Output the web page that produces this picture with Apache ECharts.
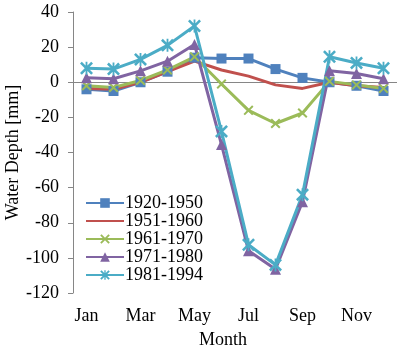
<!DOCTYPE html>
<html>
<head>
<meta charset="utf-8">
<script src="https://cdn.jsdelivr.net/npm/echarts@6/dist/echarts.min.js"></script>
<style>
  html, body { margin: 0; padding: 0; background: #fff; }
  #chart { width: 397px; height: 350px; }
</style>
</head>
<body>
<div id="chart"></div>
<script>
// chart data
const months = ['Jan','Feb','Mar','Apr','May','Jun','Jul','Aug','Sep','Oct','Nov','Dec']
const yTicks = [-120, -100, -80, -60, -40, -20, 0, 20, 40]
const periods = ['1920-1950', '1951-1960', '1961-1970', '1971-1980', '1981-1994']
const p1920 = [-4, -5, 0, 6, 14, 13.5, 13.5, 7.5, 2.5, 0, -2, -5]
const p1951 = [-3.5, -4, 0, 6, 12, 7, 3.5, -1.5, -3.5, 0, -2, -3]
const p1961 = [-2, -3, 1, 7, 14.5, -1, -16, -23.5, -17.5, 0.5, -1.5, -3.5]
const p1971 = [2.5, 2, 6.5, 12, 21.5, -35.5, -96, -106.5, -68, 6.5, 5, 2]
const p1981 = [8, 7.5, 13, 21, 32, -28, -92.5, -104, -64, 14.5, 11, 8]

const font = 'Liberation Serif'
const xMark = 'path://M0,1.4 L1.4,0 L5,3.6 L8.6,0 L10,1.4 L6.4,5 L10,8.6 L8.6,10 L5,6.4 L1.4,10 L0,8.6 L3.6,5 Z'
const starMark = xMark + ' M4.3,0 L5.7,0 L5.7,10 L4.3,10 Z'

const mk = (name, data, color, symbol, size) => ({
    name: name,
    type: 'line',
    data: data,
    symbol: symbol,
    symbolSize: size,
    showSymbol: symbol !== 'none',
    lineStyle: { width: 3, color: color },
    itemStyle: { color: color },
    animation: false
})

const chart = echarts.init(document.getElementById('chart'))
chart.setOption({
    textStyle: { fontFamily: font, color: '#000' },
    grid: { left: 73, right: 0, top: 12, bottom: 57, containLabel: false, outerBoundsMode: 'none' },
    legend: {
        orient: 'vertical',
        left: 80,
        top: 189,
        itemWidth: 38,
        itemHeight: 12,
        itemGap: 0,
        textStyle: { fontFamily: font, fontSize: 18, lineHeight: 18, color: '#000', padding: [0, 0, 0, -4] },
        data: periods.map((p, i) => i === 1 ? { name: p, itemStyle: { opacity: 0 } } : p)
    },
    xAxis: [{
        type: 'category',
        data: months,
        boundaryGap: true,
        axisLine: { show: false, onZero: false },
        axisTick: { show: false },
        axisLabel: { interval: 1, fontFamily: font, fontSize: 18, color: '#000', margin: 14 },
        name: 'Month',
        nameLocation: 'middle',
        nameGap: 38,
        nameMoveOverlap: false,
        nameTextStyle: { fontFamily: font, fontSize: 18, color: '#000', padding: [0, 24, 0, 0] }
    }, {
        type: 'category',
        data: months,
        position: 'bottom',
        boundaryGap: true,
        axisLine: { onZero: true, lineStyle: { color: '#868686', width: 1 } },
        axisTick: { interval: 1, inside: true, length: 5, lineStyle: { color: '#868686' } },
        axisLabel: { show: false }
    }],
    yAxis: {
        type: 'value',
        min: yTicks[0],
        max: yTicks[yTicks.length - 1],
        interval: 20,
        splitLine: { show: false },
        axisLine: { show: true, lineStyle: { color: '#868686' } },
        axisTick: { show: true, length: 5, lineStyle: { color: '#868686' } },
        axisLabel: { fontFamily: font, fontSize: 18, color: '#000', margin: 14 },
        name: 'Water Depth [mm]',
        nameLocation: 'middle',
        nameGap: 51,
        nameMoveOverlap: false,
        nameTextStyle: { fontFamily: font, fontSize: 18, color: '#000' }
    },
    series: [
        mk(periods[0], p1920, '#4F81BD', 'rect', 10),
        mk(periods[1], p1951, '#C0504D', 'none', 0),
        mk(periods[2], p1961, '#9BBB59', xMark, 10),
        mk(periods[3], p1971, '#8064A2', 'triangle', 11),
        mk(periods[4], p1981, '#4BACC6', starMark, 13)
    ]
})
</script>
</body>
</html>
